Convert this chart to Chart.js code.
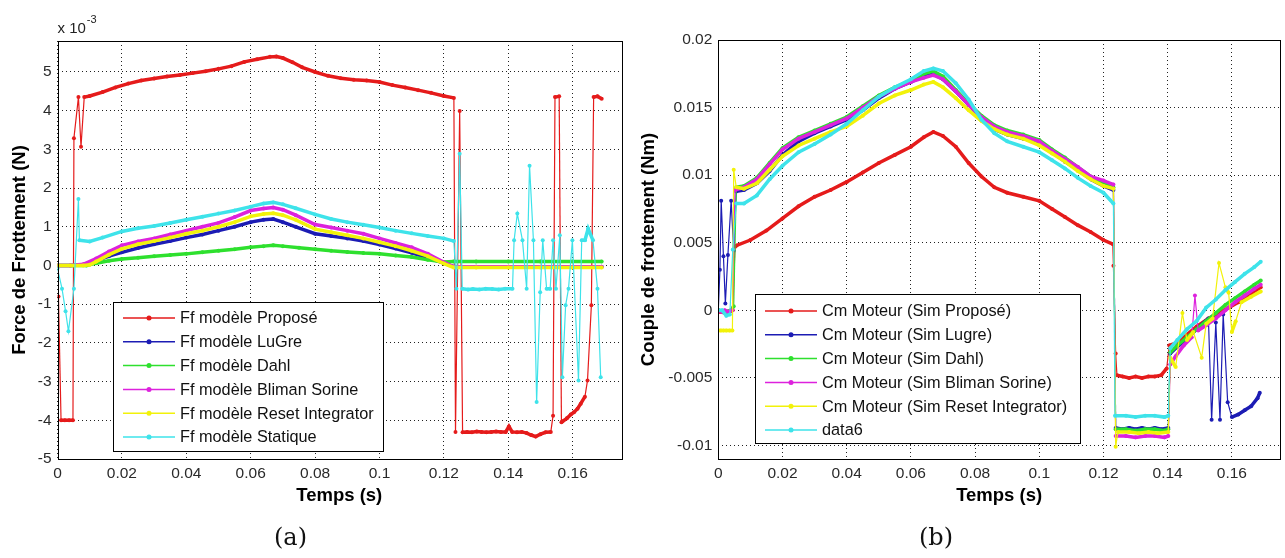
<!DOCTYPE html>
<html>
<head>
<meta charset="utf-8">
<script src="https://cdn.jsdelivr.net/npm/chart.js@4/dist/chart.umd.min.js"></script>
<style>
  body { margin: 0; background: #fff; }
  #wrap { position: relative; width: 1285px; height: 558px; background: #fff; overflow: hidden; }
  canvas { position: absolute; top: 0; }
  .cap { position: absolute; top: 523px; font: 24px "DejaVu Serif", serif; color: #111; }
</style>
</head>
<body>
<div id="wrap">
  <canvas id="chartA" width="628" height="558" style="left:0"></canvas>
  <canvas id="chartB" width="657" height="558" style="left:628px"></canvas>
  <div class="cap" style="left:274px">(a)</div>
  <div class="cap" style="left:919px">(b)</div>
</div>
<script>
// ---- (a) Force de frottement, values in 1e-3 N ----
var labelsA = ["Ff modèle Proposé", "Ff modèle LuGre", "Ff modèle Dahl", "Ff modèle Bliman Sorine", "Ff modèle Reset Integrator", "Ff modèle Statique"];

var tA_prop = [0.0003, 0.0011, 0.0023, 0.0036, 0.0048, 0.0051, 0.0065, 0.0073, 0.0083, 0.010, 0.014, 0.018, 0.022, 0.026, 0.030, 0.034, 0.038, 0.042, 0.046, 0.050, 0.054, 0.058, 0.062, 0.066, 0.068, 0.070, 0.073, 0.076, 0.080, 0.084, 0.088, 0.092, 0.096, 0.100, 0.104, 0.108, 0.112, 0.116, 0.120, 0.1231,
  0.1236, 0.1249, 0.1258, 0.1272, 0.1287, 0.1302, 0.1317, 0.1332, 0.1347, 0.1362, 0.1377, 0.1392, 0.1402, 0.1412, 0.1427, 0.1442, 0.1457, 0.1471, 0.1485, 0.1500, 0.1516, 0.1532, 0.1539, 0.1545, 0.1558, 0.1565, 0.1568, 0.1582, 0.1594, 0.1604, 0.1615, 0.1625, 0.1638, 0.1646, 0.1658, 0.1665, 0.1677, 0.1690];
var yA_prop = [-0.8, -4.0, -4.0, -4.0, -4.0, 3.29, 4.35, 3.07, 4.35, 4.38, 4.48, 4.6, 4.7, 4.78, 4.83, 4.88, 4.92, 4.97, 5.02, 5.08, 5.15, 5.26, 5.33, 5.39, 5.4, 5.36, 5.25, 5.12, 5.0, 4.9, 4.84, 4.8, 4.78, 4.74, 4.66, 4.6, 4.53, 4.46, 4.38, 4.33,
  -4.3, 3.99, -4.31, -4.3, -4.31, -4.29, -4.3, -4.31, -4.3, -4.29, -4.3, -4.3, -4.16, -4.3, -4.31, -4.3, -4.33, -4.38, -4.42, -4.36, -4.31, -4.3, -3.88, 4.35, 4.37, -4.05, -4.03, -3.95, -3.85, -3.79, -3.70, -3.57, -3.39, -2.97, -1.03, 4.35, 4.37, 4.31];

var tA_lugre = [0, 0.004, 0.008, 0.012, 0.016, 0.020, 0.025, 0.030, 0.035, 0.040, 0.045, 0.050, 0.055, 0.060, 0.064, 0.067, 0.070, 0.074, 0.080, 0.085, 0.090, 0.095, 0.100, 0.105, 0.110, 0.115, 0.120, 0.123, 0.130, 0.140, 0.150, 0.160, 0.169];
var yA_lugre = [0, 0, 0.02, 0.12, 0.24, 0.34, 0.45, 0.55, 0.63, 0.72, 0.8, 0.9, 1.0, 1.12, 1.18, 1.2, 1.12, 1.0, 0.82, 0.76, 0.7, 0.63, 0.54, 0.44, 0.33, 0.2, 0.06, -0.03, -0.03, -0.03, -0.03, -0.03, -0.03];

var tA_dahl = [0, 0.005, 0.009, 0.012, 0.016, 0.020, 0.025, 0.030, 0.035, 0.040, 0.045, 0.050, 0.055, 0.060, 0.064, 0.067, 0.070, 0.075, 0.080, 0.085, 0.090, 0.095, 0.100, 0.105, 0.110, 0.115, 0.120, 0.123, 0.130, 0.140, 0.150, 0.160, 0.169];
var yA_dahl = [0, 0, 0, 0.06, 0.12, 0.17, 0.2, 0.24, 0.27, 0.3, 0.34, 0.38, 0.42, 0.47, 0.5, 0.52, 0.5, 0.46, 0.42, 0.38, 0.35, 0.32, 0.3, 0.26, 0.22, 0.15, 0.09, 0.1, 0.1, 0.1, 0.1, 0.1, 0.1];

var tA_bliman = [0, 0.004, 0.008, 0.012, 0.016, 0.020, 0.025, 0.030, 0.035, 0.040, 0.045, 0.050, 0.055, 0.060, 0.064, 0.067, 0.070, 0.074, 0.080, 0.085, 0.090, 0.095, 0.100, 0.105, 0.110, 0.115, 0.120, 0.123, 0.130, 0.140, 0.150, 0.160, 0.169];
var yA_bliman = [0, 0, 0.03, 0.18, 0.36, 0.52, 0.62, 0.7, 0.8, 0.9, 1.0, 1.1, 1.25, 1.42, 1.47, 1.5, 1.44, 1.3, 1.06, 0.98, 0.9, 0.82, 0.7, 0.58, 0.47, 0.3, 0.08, -0.03, -0.03, -0.03, -0.03, -0.03, -0.03];

var tA_reset = [0, 0.004, 0.008, 0.010, 0.012, 0.016, 0.020, 0.025, 0.030, 0.035, 0.040, 0.045, 0.050, 0.055, 0.060, 0.064, 0.067, 0.070, 0.074, 0.080, 0.085, 0.090, 0.095, 0.100, 0.105, 0.110, 0.115, 0.120, 0.123, 0.130, 0.140, 0.150, 0.160, 0.169];
var yA_reset = [0, 0, 0, 0.02, 0.1, 0.28, 0.43, 0.55, 0.63, 0.72, 0.82, 0.9, 1.0, 1.12, 1.27, 1.33, 1.35, 1.3, 1.18, 0.94, 0.86, 0.78, 0.7, 0.6, 0.5, 0.38, 0.24, 0.05, -0.05, -0.05, -0.05, -0.05, -0.05, -0.05];

var tA_stat = [0, 0.0014, 0.0025, 0.0034, 0.0051, 0.0065, 0.0068, 0.010, 0.014, 0.020, 0.025, 0.030, 0.035, 0.040, 0.045, 0.050, 0.055, 0.060, 0.064, 0.067, 0.070, 0.074, 0.080, 0.085, 0.090, 0.095, 0.100, 0.105, 0.110, 0.115, 0.120, 0.1231,
  0.1239, 0.1249, 0.1257, 0.1275, 0.1290, 0.1310, 0.1330, 0.1350, 0.1370, 0.1390, 0.1413, 0.1418, 0.1428, 0.1444, 0.1457, 0.1466, 0.1478, 0.1488, 0.1499, 0.1507, 0.1519, 0.1530, 0.1539, 0.1548, 0.1560, 0.1568, 0.1578, 0.1587, 0.1599, 0.1618, 0.1628, 0.1638, 0.1648, 0.1663, 0.1677, 0.1687];
var yA_stat = [-0.08, -0.6, -1.18, -1.7, -0.6, 1.72, 0.65, 0.62, 0.72, 0.88, 0.96, 1.02, 1.1, 1.18, 1.26, 1.34, 1.42, 1.52, 1.6, 1.63, 1.58, 1.48, 1.32, 1.2, 1.12, 1.05, 0.98, 0.9, 0.83, 0.76, 0.7, 0.63,
  -0.6, 2.89, -0.6, -0.62, -0.61, -0.62, -0.6, -0.61, -0.62, -0.6, -0.6, 0.65, 1.34, 0.65, -0.6, 2.58, 0.65, -3.53, -0.69, 0.65, -0.6, -0.6, 0.65, -0.6, 0.78, -2.89, -1.03, -0.6, 0.65, -2.97, 0.65, 0.65, 0.95, 0.65, -0.6, -2.89];

var xTicks = [0, 0.02, 0.04, 0.06, 0.08, 0.1, 0.12, 0.14, 0.16];
var xTickLabels = ["0", "0.02", "0.04", "0.06", "0.08", "0.1", "0.12", "0.14", "0.16"];
var yTicksA = [-5, -4, -3, -2, -1, 0, 1, 2, 3, 4, 5];

// ---- (b) Couple de frottement, Nm ----
var labelsB = ["Cm Moteur (Sim Proposé)", "Cm Moteur (Sim Lugre)", "Cm Moteur (Sim Dahl)", "Cm Moteur (Sim Bliman Sorine)", "Cm Moteur (Sim Reset Integrator)", "data6"];

var tB_prop = [0, 0.0025, 0.0045, 0.0052, 0.0057, 0.010, 0.015, 0.020, 0.025, 0.030, 0.035, 0.040, 0.045, 0.050, 0.055, 0.060, 0.064, 0.067, 0.070, 0.074, 0.078, 0.082, 0.086, 0.090, 0.095, 0.100, 0.104, 0.108, 0.112, 0.116, 0.120, 0.1229,
  0.1231, 0.1238, 0.1242, 0.126, 0.128, 0.130, 0.132, 0.134, 0.136, 0.138, 0.1397, 0.1405, 0.143, 0.146, 0.149, 0.1527, 0.156, 0.159, 0.162, 0.165, 0.169];
var yB_prop = [-0.0001, -0.0002, 0.0, 0.0047, 0.0048, 0.0052, 0.0059, 0.0068, 0.0077, 0.0084, 0.0089, 0.0095, 0.0102, 0.0109, 0.0115, 0.0121, 0.0128, 0.0132, 0.0129, 0.0121, 0.0109, 0.0099, 0.0091, 0.0087, 0.0084, 0.0081, 0.0075, 0.0069, 0.0063, 0.0058, 0.0052, 0.0049,
  0.0033, -0.0032, -0.0048, -0.0049, -0.005, -0.0049, -0.005, -0.0049, -0.0049, -0.0048, -0.0043, -0.0026, -0.0024, -0.0018, -0.0012, -0.0006, -0.0002, 0.0002, 0.0006, 0.0011, 0.0017];

var tB_lugre = [0, 0.0005, 0.0009, 0.0016, 0.0022, 0.0030, 0.0040, 0.0048, 0.0056, 0.008, 0.012, 0.016, 0.020, 0.025, 0.030, 0.035, 0.040, 0.045, 0.050, 0.055, 0.060, 0.064, 0.067, 0.070, 0.074, 0.078, 0.082, 0.086, 0.090, 0.095, 0.100, 0.104, 0.108, 0.112, 0.116, 0.120, 0.1231,
  0.1238, 0.126, 0.128, 0.130, 0.132, 0.134, 0.136, 0.138, 0.1402, 0.1408, 0.143, 0.146, 0.149, 0.1518, 0.1527, 0.1537, 0.1550, 0.1563, 0.1573, 0.1587, 0.1600, 0.162, 0.164, 0.166, 0.168, 0.1687];
var yB_lugre = [0.0, 0.003, 0.0081, 0.004, 0.0005, 0.0041, 0.0081, 0.0044, 0.0088, 0.0089, 0.0094, 0.0103, 0.0115, 0.0125, 0.0131, 0.0136, 0.0141, 0.0148, 0.0157, 0.0164, 0.0169, 0.0173, 0.0175, 0.0171, 0.0162, 0.0152, 0.0142, 0.0134, 0.013, 0.0127, 0.0124, 0.0117, 0.011, 0.0104, 0.0097, 0.0092, 0.0089,
  -0.0087, -0.0088, -0.0087, -0.0088, -0.0087, -0.0088, -0.0087, -0.0088, -0.0087, -0.0032, -0.0027, -0.0021, -0.0014, -0.0008, -0.0006, -0.0081, -0.0009, -0.0081, -0.0003, -0.0068, -0.0079, -0.0077, -0.0074, -0.0071, -0.0065, -0.0061];

var tB_dahl = [0, 0.002, 0.004, 0.0048, 0.0056, 0.008, 0.012, 0.016, 0.020, 0.025, 0.030, 0.035, 0.040, 0.045, 0.050, 0.055, 0.060, 0.064, 0.067, 0.070, 0.074, 0.078, 0.082, 0.086, 0.090, 0.095, 0.100, 0.104, 0.108, 0.112, 0.116, 0.120, 0.1231,
  0.1238, 0.127, 0.130, 0.133, 0.136, 0.139, 0.1402, 0.1408, 0.143, 0.146, 0.149, 0.152, 0.155, 0.158, 0.161, 0.164, 0.167, 0.169];
var yB_dahl = [0.0, -0.0001, 0.0, 0.0003, 0.0091, 0.0092, 0.0098, 0.0109, 0.012, 0.0128, 0.0133, 0.0138, 0.0143, 0.0151, 0.0159, 0.0165, 0.017, 0.0175, 0.0177, 0.0173, 0.0163, 0.0153, 0.0144, 0.0137, 0.0133, 0.013, 0.0126, 0.0119, 0.0113, 0.0106, 0.0099, 0.0094, 0.0091,
  -0.0088, -0.0088, -0.0089, -0.0088, -0.0088, -0.0089, -0.0088, -0.0031, -0.0026, -0.002, -0.0014, -0.0008, -0.0002, 0.0004, 0.0009, 0.0014, 0.0019, 0.0022];

var tB_bliman = [0, 0.0009, 0.002, 0.003, 0.0044, 0.0052, 0.008, 0.012, 0.016, 0.020, 0.025, 0.030, 0.035, 0.040, 0.045, 0.050, 0.055, 0.060, 0.064, 0.067, 0.070, 0.074, 0.078, 0.082, 0.086, 0.090, 0.095, 0.100, 0.104, 0.108, 0.112, 0.116, 0.120, 0.1231,
  0.1238, 0.127, 0.130, 0.133, 0.136, 0.139, 0.1402, 0.1408, 0.1425, 0.145, 0.1475, 0.1485, 0.1495, 0.152, 0.155, 0.158, 0.161, 0.164, 0.167, 0.169];
var yB_bliman = [0.0, -0.0001, 0.0, -0.0001, 0.0, 0.0089, 0.0091, 0.0097, 0.0108, 0.0119, 0.0127, 0.0132, 0.0137, 0.0142, 0.015, 0.0158, 0.0164, 0.0169, 0.0172, 0.0174, 0.0171, 0.0162, 0.0152, 0.0143, 0.0136, 0.0132, 0.0129, 0.0125, 0.0118, 0.0112, 0.0106, 0.0099, 0.0096, 0.0093,
  -0.0093, -0.0093, -0.0094, -0.0093, -0.0093, -0.0094, -0.0093, -0.004, -0.0034, -0.0026, -0.002, 0.0011, -0.0015, -0.0011, -0.0006, 0.0, 0.0006, 0.0011, 0.0016, 0.0019];

var tB_reset = [0, 0.0008, 0.0016, 0.0025, 0.0035, 0.0044, 0.0048, 0.0056, 0.008, 0.012, 0.016, 0.020, 0.025, 0.030, 0.035, 0.040, 0.045, 0.050, 0.055, 0.060, 0.064, 0.067, 0.070, 0.074, 0.078, 0.082, 0.086, 0.090, 0.095, 0.100, 0.104, 0.108, 0.112, 0.116, 0.120, 0.1231,
  0.1238, 0.1245, 0.128, 0.131, 0.134, 0.137, 0.1402, 0.1408, 0.1425, 0.1446, 0.146, 0.148, 0.1506, 0.152, 0.154, 0.156, 0.158, 0.159, 0.160, 0.1612, 0.163, 0.166, 0.169];
var yB_reset = [-0.0015, -0.0015, -0.0015, -0.0015, -0.0015, -0.0015, 0.0104, 0.0091, 0.009, 0.0094, 0.0104, 0.0114, 0.0122, 0.0127, 0.0132, 0.0136, 0.0144, 0.0153, 0.0159, 0.0163, 0.0167, 0.0169, 0.0165, 0.0157, 0.0148, 0.014, 0.0134, 0.013, 0.0127, 0.0122, 0.0116, 0.011, 0.0103, 0.0097, 0.0092, 0.009,
  -0.0101, -0.009, -0.009, -0.0091, -0.009, -0.0091, -0.009, -0.0035, -0.0042, -0.0002, -0.0022, -0.0016, -0.0035, -0.001, -0.0006, 0.0035, 0.0017, 0.0013, -0.0016, -0.0008, 0.0006, 0.001, 0.0014];

var tB_data6 = [0, 0.0012, 0.0025, 0.0036, 0.0045, 0.0056, 0.008, 0.012, 0.016, 0.020, 0.025, 0.030, 0.035, 0.040, 0.045, 0.050, 0.055, 0.060, 0.064, 0.067, 0.070, 0.074, 0.078, 0.082, 0.086, 0.090, 0.095, 0.100, 0.104, 0.108, 0.112, 0.116, 0.120, 0.1231,
  0.1236, 0.127, 0.130, 0.133, 0.136, 0.139, 0.1402, 0.1408, 0.143, 0.146, 0.149, 0.152, 0.155, 0.158, 0.161, 0.164, 0.167, 0.169];
var yB_data6 = [0.0, 0.0, -0.0004, -0.0003, 0.0045, 0.0079, 0.0079, 0.0085, 0.0097, 0.0107, 0.0117, 0.0123, 0.013, 0.0138, 0.0148, 0.0158, 0.0165, 0.0171, 0.0177, 0.0179, 0.0177, 0.0168, 0.0156, 0.0141, 0.0131, 0.0125, 0.0121, 0.0117, 0.0111, 0.0105, 0.0098, 0.0092, 0.0087, 0.0079,
  -0.0078, -0.0078, -0.0079, -0.0078, -0.0078, -0.0079, -0.0078, -0.0028, -0.0022, -0.0014, -0.0008, 0.0002, 0.0008, 0.0015, 0.0021, 0.0027, 0.0032, 0.0036];

var yTicksB = [-0.01, -0.005, 0, 0.005, 0.01, 0.015, 0.02];
var yTickLabelsB = ["-0.01", "-0.005", "0", "0.005", "0.01", "0.015", "0.02"];

var colors = ["#e51b1b", "#1c1cb4", "#2ee02e", "#dd22dd", "#f2f20a", "#3ee3ea"];

function pts(t, v) {
  return t.map(function (x, i) { return {x: x, y: v[i]}; });
}

// steep jumps are drawn thin, the dense bands thick
function steep(c) {
  return Math.abs(c.p1.y - c.p0.y) > 2.5 * Math.abs(c.p1.x - c.p0.x) + 4;
}

function makeSets(labels, series) {
  return series.map(function (s, i) {
    return {
      label: labels[i],
      data: pts(s[0], s[1]),
      borderColor: colors[i],
      backgroundColor: colors[i],
      borderWidth: 3.5,
      pointRadius: 2,
      pointBorderWidth: 0,
      pointBackgroundColor: colors[i],
      tension: 0,
      order: -i,
      segment: {
        borderWidth: function (c) { return steep(c) ? 1.2 : 3.5; }
      }
    };
  });
}

var frame = {
  id: 'frame',
  afterDatasetsDraw: function (chart) {
    var a = chart.chartArea, ctx = chart.ctx;
    ctx.save();
    ctx.strokeStyle = '#000';
    ctx.lineWidth = 1;
    ctx.strokeRect(Math.round(a.left) + 0.5, Math.round(a.top) + 0.5, Math.round(a.right - a.left), Math.round(a.bottom - a.top));
    ctx.restore();
  }
};

var legendBox = {
  id: 'legendBox',
  afterDraw: function (chart, args, o) {
    var ctx = chart.ctx;
    ctx.save();
    ctx.fillStyle = '#fff';
    ctx.fillRect(o.x, o.y, o.w, o.h);
    ctx.strokeStyle = '#000';
    ctx.lineWidth = 1;
    ctx.strokeRect(o.x + 0.5, o.y + 0.5, o.w, o.h);
    ctx.font = '16.3px "Liberation Sans", Arial, sans-serif';
    ctx.textBaseline = 'middle';
    chart.data.datasets.forEach(function (ds, i) {
      var y = o.y + o.first + i * o.step;
      ctx.strokeStyle = ds.borderColor;
      ctx.lineWidth = 1.5;
      ctx.beginPath();
      ctx.moveTo(o.x + 10, y);
      ctx.lineTo(o.x + 62, y);
      ctx.stroke();
      ctx.fillStyle = ds.borderColor;
      ctx.beginPath();
      ctx.arc(o.x + 36, y, 2.5, 0, Math.PI * 2);
      ctx.fill();
      ctx.fillStyle = '#111';
      ctx.fillText(ds.label, o.x + 67, y + 1);
    });
    ctx.restore();
  }
};

var expLabel = {
  id: 'expLabel',
  afterDraw: function (chart, args, o) {
    if (!o.text) return;
    var ctx = chart.ctx, a = chart.chartArea;
    ctx.save();
    ctx.fillStyle = '#222';
    ctx.textBaseline = 'alphabetic';
    ctx.font = '15px "Liberation Sans", Arial, sans-serif';
    ctx.fillText(o.text, a.left, a.top - 8);
    var w = ctx.measureText(o.text).width;
    ctx.font = '11px "Liberation Sans", Arial, sans-serif';
    ctx.fillText(o.sup, a.left + w + 1, a.top - 18);
    ctx.restore();
  }
};

var tickFont = {family: '"Liberation Sans", Arial, sans-serif', size: 15.5};
var titleFont = {family: '"Liberation Sans", Arial, sans-serif', size: 18.5, weight: 'bold'};

function xScale() {
  return {
    type: 'linear', min: 0, max: 0.175,
    afterBuildTicks: function (s) { s.ticks = xTicks.map(function (v) { return {value: v}; }); },
    afterFit: function (s) { s.height = 99; },
    ticks: {callback: function (v, i) { return xTickLabels[i]; }, font: tickFont, color: '#2a2a2a', padding: 5, maxRotation: 0, autoSkip: false},
    grid: {color: '#222', drawTicks: false, lineWidth: 1},
    border: {display: false, dash: [1, 3]},
    title: {display: true, text: 'Temps (s)', font: titleFont, color: '#000', padding: {top: 0, bottom: 51}}
  };
}

function yScale(min, max, vals, labs, width, title, pad) {
  return {
    type: 'linear', min: min, max: max,
    afterBuildTicks: function (s) { s.ticks = vals.map(function (v) { return {value: v}; }); },
    afterFit: function (s) { s.width = width; },
    ticks: {callback: function (v, i) { return labs[i]; }, font: tickFont, color: '#2a2a2a', padding: 6, autoSkip: false},
    grid: {color: '#222', drawTicks: false, lineWidth: 1},
    border: {display: false, dash: [1, 3]},
    title: {display: true, text: title, font: titleFont, color: '#000', padding: {top: pad, bottom: 0}}
  };
}

Chart.defaults.font.family = '"Liberation Sans", Arial, sans-serif';

new Chart(document.getElementById('chartA'), {
  type: 'line',
  data: {
    datasets: makeSets(labelsA, [
      [tA_prop, yA_prop], [tA_lugre, yA_lugre], [tA_dahl, yA_dahl],
      [tA_bliman, yA_bliman], [tA_reset, yA_reset], [tA_stat, yA_stat]
    ])
  },
  options: {
    responsive: false, animation: false, devicePixelRatio: 1,
    layout: {padding: {top: 41, right: 7, bottom: 0, left: 0}},
    scales: {
      x: xScale(),
      y: yScale(-5, 5.8, yTicksA, yTicksA.map(String), 57.5, 'Force de Frottement (N)', 8.4)
    },
    plugins: {
      legend: {display: false},
      tooltip: {enabled: false},
      legendBox: {x: 113, y: 302, w: 270, h: 149, first: 16, step: 23.8},
      expLabel: {text: 'x 10', sup: '-3'}
    }
  },
  plugins: [frame, legendBox, expLabel]
});

new Chart(document.getElementById('chartB'), {
  type: 'line',
  data: {
    datasets: makeSets(labelsB, [
      [tB_prop, yB_prop], [tB_lugre, yB_lugre], [tB_dahl, yB_dahl],
      [tB_bliman, yB_bliman], [tB_reset, yB_reset], [tB_data6, yB_data6]
    ])
  },
  options: {
    responsive: false, animation: false, devicePixelRatio: 1,
    layout: {padding: {top: 40, right: 5, bottom: 0, left: 0}},
    scales: {
      x: xScale(),
      y: yScale(-0.011, 0.02, yTicksB, yTickLabelsB, 90.3, 'Couple de frottement (Nm)', 10)
    },
    plugins: {
      legend: {display: false},
      tooltip: {enabled: false},
      legendBox: {x: 127, y: 294, w: 325, h: 149, first: 17, step: 23.8},
      expLabel: {}
    }
  },
  plugins: [frame, legendBox, expLabel]
});
</script>
</body>
</html>
